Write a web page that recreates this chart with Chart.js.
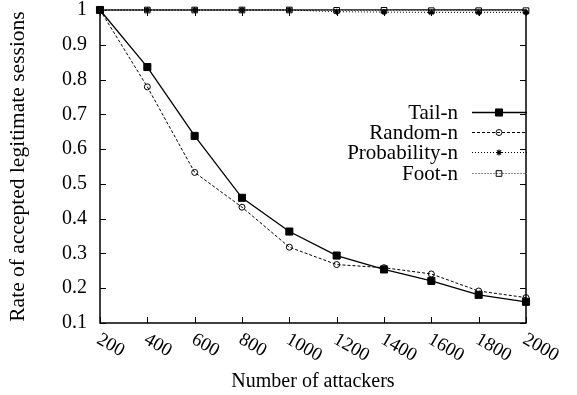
<!DOCTYPE html>
<html>
<head>
<meta charset="utf-8">
<script src="https://cdn.jsdelivr.net/npm/chart.js@4.4.1/dist/chart.umd.min.js"></script>
<style>
  html, body { margin: 0; padding: 0; background: #fff; }
</style>
</head>
<body>
<canvas id="lineChart" width="577" height="395"></canvas>
<script>
  // Dados
  const atacantes = [200, 400, 600, 800, 1000, 1200, 1400, 1600, 1800, 2000];
  const tailN = [1, 0.836, 0.638, 0.46, 0.363, 0.294, 0.254, 0.221, 0.181, 0.161];
  const randomN = [1, 0.779, 0.533, 0.433, 0.318, 0.268, 0.259, 0.241, 0.192, 0.173];
  const probabilityN = [1, 1, 1, 1, 1, 0.995, 0.994, 0.993, 0.993, 0.993];
  const footN = [1, 1, 1, 1, 1, 0.999, 0.999, 0.998, 0.998, 0.998];
  const yTicks = [0.1, 0.2, 0.3, 0.4, 0.5, 0.6, 0.7, 0.8, 0.9, 1];

  const fonte = '"Liberation Serif", "Times New Roman", serif';

  const pontos = serie => atacantes.map((x, i) => ({ x: x, y: serie[i] }));

  /* desenha moldura, marcas internas, rotulos do eixo x e legenda */
  const extras = {
    id: 'extras',
    beforeDatasetsDraw(chart) {
      const ctx = chart.ctx;
      const a = chart.chartArea;
      const sx = chart.scales.x;
      const sy = chart.scales.y;
      ctx.save();
      ctx.strokeStyle = '#000';
      ctx.lineWidth = 1;
      yTicks.forEach(v => {
        const y = Math.round(sy.getPixelForValue(v)) + 0.5;
        ctx.beginPath();
        ctx.moveTo(a.left, y); ctx.lineTo(a.left + 6, y);
        ctx.moveTo(a.right, y); ctx.lineTo(a.right - 6, y);
        ctx.stroke();
      });
      atacantes.forEach(v => {
        const x = Math.round(sx.getPixelForValue(v)) + 0.5;
        ctx.beginPath();
        ctx.moveTo(x, a.bottom); ctx.lineTo(x, a.bottom - 6);
        ctx.moveTo(x, a.top); ctx.lineTo(x, a.top + 6);
        ctx.stroke();
      });
      ctx.lineWidth = 1.5;
      ctx.strokeRect(a.left, a.top, a.right - a.left, a.bottom - a.top);
      ctx.restore();
    },
    afterDraw(chart) {
      const ctx = chart.ctx;
      const a = chart.chartArea;
      const sx = chart.scales.x;
      ctx.save();
      // rotulos inclinados do eixo x
      ctx.fillStyle = '#000';
      ctx.font = '19px ' + fonte;
      ctx.textAlign = 'left';
      ctx.textBaseline = 'top';
      atacantes.forEach(v => {
        const x = sx.getPixelForValue(v);
        ctx.save();
        ctx.translate(x + 3, a.bottom + 7);
        ctx.rotate(30 * Math.PI / 180);
        ctx.fillText(String(v), 0, 0);
        ctx.restore();
      });

      // legenda no estilo gnuplot
      const linhas = [112, 132, 152, 173];
      ctx.font = '21px ' + fonte;
      ctx.textAlign = 'right';
      ctx.textBaseline = 'middle';
      chart.data.datasets.forEach((ds, i) => {
        const y = linhas[i];
        ctx.fillStyle = '#000';
        ctx.fillText(ds.label, 458, y + 1);
        ctx.strokeStyle = ds.borderColor;
        ctx.lineWidth = ds.borderWidth;
        ctx.setLineDash(ds.borderDash || []);
        ctx.beginPath();
        ctx.moveTo(472, y + 0.5);
        ctx.lineTo(527, y + 0.5);
        ctx.stroke();
        ctx.setLineDash([]);
        ctx.strokeStyle = ds.pointBorderColor;
        ctx.fillStyle = ds.pointBackgroundColor;
        ctx.lineWidth = ds.pointBorderWidth;
        Chart.helpers.drawPoint(ctx, {
          pointStyle: ds.pointStyle,
          radius: ds.pointRadius,
          rotation: 0,
          borderWidth: ds.pointBorderWidth
        }, 499, y + 0.5);
      });
      ctx.restore();
    }
  };

  document.addEventListener('DOMContentLoaded', () => {
    const ctx = document.getElementById('lineChart').getContext('2d');
    Chart.defaults.font.family = fonte;
    Chart.defaults.color = '#000';

    new Chart(ctx, {
      type: 'line',
      data: {
        datasets: [{
            label: 'Tail-n',
            data: pontos(tailN),
            borderColor: '#000',
            borderWidth: 1.3,
            pointStyle: 'rect',
            pointRadius: 5,
            pointBackgroundColor: '#000',
            pointBorderColor: '#000',
            pointBorderWidth: 1,
            clip: false
          },
          {
            label: 'Random-n',
            data: pontos(randomN),
            borderColor: '#000',
            borderWidth: 1,
            borderDash: [3, 2],
            pointStyle: 'circle',
            pointRadius: 3,
            pointBackgroundColor: 'rgba(0,0,0,0)',
            pointBorderColor: '#000',
            pointBorderWidth: 1,
            clip: false
          },
          {
            label: 'Probability-n',
            data: pontos(probabilityN),
            borderColor: '#000',
            borderWidth: 1,
            borderDash: [1, 2],
            pointStyle: 'star',
            pointRadius: 3,
            pointBackgroundColor: '#000',
            pointBorderColor: '#000',
            pointBorderWidth: 1.2,
            clip: false
          },
          {
            label: 'Foot-n',
            data: pontos(footN),
            borderColor: '#8a8a8a',
            borderWidth: 1,
            borderDash: [2, 1],
            pointStyle: 'rect',
            pointRadius: 4,
            pointBackgroundColor: 'rgba(0,0,0,0)',
            pointBorderColor: '#000',
            pointBorderWidth: 1,
            clip: false
          }
        ]
      },
      options: {
        responsive: false,
        animation: false,
        layout: {
          padding: { top: 10, right: 51, left: 0, bottom: 0 }
        },
        scales: {
          x: {
            type: 'linear',
            min: 200,
            max: 2000,
            ticks: {
              stepSize: 200,
              color: 'rgba(0,0,0,0)',
              font: { size: 18 }
            },
            grid: { display: false, drawTicks: false },
            border: { display: false },
            title: {
              display: true,
              text: 'Number of attackers',
              font: { size: 20 },
              padding: { top: 0, bottom: 1 }
            },
            afterFit: s => {
              s.height = 72;
              s.paddingLeft = 0;
              s.paddingRight = 0;
            }
          },
          y: {
            min: 0.1,
            max: 1,
            ticks: {
              stepSize: 0.1,
              padding: 13,
              font: { size: 20 },
              callback: v => String(Math.round(v * 10) / 10)
            },
            grid: { display: false, drawTicks: false },
            border: { display: false },
            title: {
              display: true,
              text: 'Rate of accepted legitimate sessions',
              font: { size: 21.5 },
              padding: { top: 5, bottom: 0 }
            },
            afterFit: s => {
              s.width = 100;
              s.paddingTop = 0;
              s.paddingBottom = 0;
            }
          }
        },
        plugins: {
          legend: { display: false },
          tooltip: { enabled: false }
        }
      },
      plugins: [extras]
    });
  });
</script>
</body>
</html>
